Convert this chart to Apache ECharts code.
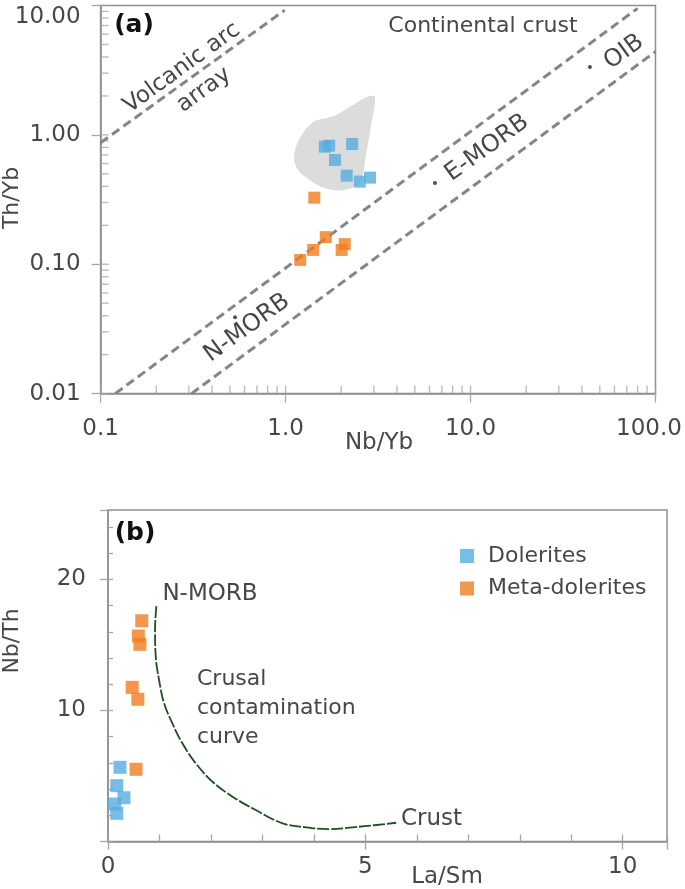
<!DOCTYPE html>
<html><head><meta charset="utf-8">
<script src="https://cdn.jsdelivr.net/npm/echarts@6/dist/echarts.min.js"></script>
<style>html,body{margin:0;padding:0;background:#fff}#c{width:685px;height:889px}</style>
</head><body><div id="c"></div>
<script>
// ---------- Panel (a): Th/Yb vs Nb/Yb (log-log) ----------
const dolNbYb = [1.63, 1.72, 2.29, 1.85, 2.14, 2.52, 2.86];
const dolThYb = [0.81, 0.825, 0.85, 0.64, 0.484, 0.435, 0.467];
const metaNbYb = [1.43, 1.65, 1.41, 1.20, 2.09, 2.01];
const metaThYb = [0.327, 0.162, 0.129, 0.108, 0.143, 0.129];
const crustFieldNbYb = [3.04, 2.90, 2.72, 2.55, 2.31, 1.97, 1.59, 1.355, 1.167, 1.11, 1.196, 1.41, 1.673, 1.89, 2.31, 2.75];
const crustFieldThYb = [1.96, 1.19, 0.70, 0.433, 0.392, 0.372, 0.392, 0.448, 0.535, 0.675, 0.946, 1.26, 1.35, 1.43, 1.70, 1.96];
const refNames = ['N-MORB', 'E-MORB', 'OIB'];
const refNbYb = [0.533, 6.42, 44.2];
const refThYb = [0.039, 0.425, 3.35];
const volcanicArcNbYb = [0.1, 0.99];
const volcanicArcThYb = [0.87, 9.2];
const morbUpperNbYb = [0.12, 80];
const morbUpperThYb = [0.01, 9.5];
const morbLowerNbYb = [0.31, 100];
const morbLowerThYb = [0.01, 4.4];
const xTickLabelsA = ['0.1', '1.0', '10.0', '100.0'];
const yTickLabelsA = ['0.01', '0.10', '1.00', '10.00'];
const xMinorTicksA = [0.1,0.2,0.3,0.4,0.5,0.6,0.7,0.8,0.9,1,2,3,4,5,6,7,8,9,10,20,30,40,50,60,70,80,90,100];
const yMinorTicksA = [0.01,0.02,0.03,0.04,0.05,0.06,0.07,0.08,0.09,0.1,0.2,0.3,0.4,0.5,0.6,0.7,0.8,0.9,1,2,3,4,5,6,7,8,9,10];

// ---------- Panel (b): Nb/Th vs La/Sm ----------
const dolLaSm = [0.233, 0.17, 0.31, 0.13, 0.17];
const dolNbTh = [5.66, 4.26, 3.34, 2.86, 2.15];
const metaLaSm = [0.656, 0.59, 0.62, 0.47, 0.58, 0.545];
const metaNbTh = [16.84, 15.68, 15.04, 11.76, 10.85, 5.51];
const curveLaSm = [0.94, 0.914, 0.928, 0.992, 1.09, 1.25, 1.445, 1.706, 2.03, 2.42, 2.87, 3.39, 3.85, 4.30, 4.75, 5.21, 5.60];
const curveNbTh = [17.96, 16.13, 14.10, 12.32, 10.54, 9.02, 7.49, 5.96, 4.56, 3.42, 2.40, 1.39, 1.08, 0.95, 1.08, 1.26, 1.43];
const xTickLabelsB = [0, 5, 10];
const yTickLabelsB = [10, 20];

const FONT = 'DejaVu Sans';
const TXT = '#474747';
const AXIS = '#8e8e8e';
const TICK = '#a6a6a6';
const BLUE = '#56ade0';
const ORANGE = '#f07d20';
const zip = (a, b) => a.map((v, i) => [v, b[i]]);
const lg = v => Math.round(Math.log10(v));

const chart = echarts.init(document.getElementById('c'), null, {renderer: 'canvas'});

const txt = (text, x, y, size, deg, weight) => ({
  type: 'text', x: x, y: y, rotation: (deg || 0) * Math.PI / 180, silent: true,
  style: {text: text, fontSize: size, fontFamily: FONT, fontWeight: weight || 'normal',
          fill: weight ? '#111' : TXT, align: 'center', verticalAlign: 'middle'}
});

const option = {
  animation: false,
  backgroundColor: '#fff',
  grid: [
    {left: 100.6, right: 29.5, top: 5.5, bottom: 889 - 393.6, show: true, borderColor: AXIS, borderWidth: 1.5, outerBoundsMode: 'none', containLabel: false},
    {left: 108, right: 18, top: 510, bottom: 889 - 841.5, show: true, borderColor: AXIS, borderWidth: 1.5, outerBoundsMode: 'none', containLabel: false}
  ],
  xAxis: [
    {gridIndex: 0, type: 'log', logBase: 10, min: 0.1, max: 100,
     axisLine: {lineStyle: {color: AXIS, width: 1.5}},
     axisTick: {length: 9, lineStyle: {color: TICK, width: 1.3}},
     splitLine: {show: false},
     axisLabel: {fontSize: 23, fontFamily: FONT, color: TXT, margin: 24,
       formatter: v => { const s = xTickLabelsA[lg(v) + 1]; return lg(v) === 2 ? '{r|' + s + '}' : s; },
       rich: {r: {fontSize: 23, fontFamily: FONT, color: TXT, padding: [0, 13, 0, 0]}}}},
    {gridIndex: 1, type: 'value', min: 0, max: 10.86, interval: 1, position: 'bottom',
     axisLine: {onZero: false, lineStyle: {color: AXIS, width: 1.5}},
     axisTick: {inside: true, length: 7, lineStyle: {color: TICK, width: 1.3}},
     splitLine: {show: false},
     axisLabel: {fontSize: 23, fontFamily: FONT, color: TXT, margin: 14,
       formatter: v => xTickLabelsB.indexOf(Math.round(v * 1000) / 1000) >= 0 ? String(Math.round(v)) : ''}},
    {gridIndex: 1, type: 'value', min: 0, max: 10.86, interval: 5, position: 'bottom',
     axisLine: {show: false, onZero: false}, axisTick: {length: 8, lineStyle: {color: TICK, width: 1.3}},
     axisLabel: {show: false}, splitLine: {show: false}}
  ],
  yAxis: [
    {gridIndex: 0, type: 'log', logBase: 10, min: 0.01, max: 10,
     axisLine: {lineStyle: {color: AXIS, width: 1.5}},
     axisTick: {length: 9, lineStyle: {color: TICK, width: 1.3}},
     splitLine: {show: false},
     axisLabel: {fontSize: 23, fontFamily: FONT, color: TXT, margin: 20, verticalAlignMaxLabel: 'top',
       formatter: v => yTickLabelsA[lg(v) + 2]}},
    {gridIndex: 1, type: 'value', min: 0, max: 25.29, interval: 2, position: 'left',
     axisLine: {onZero: false, lineStyle: {color: AXIS, width: 1.5}},
     axisTick: {inside: true, length: 5, lineStyle: {color: TICK, width: 1.3}},
     splitLine: {show: false},
     axisLabel: {fontSize: 23, fontFamily: FONT, color: TXT, margin: 22,
       formatter: v => yTickLabelsB.indexOf(Math.round(v * 1000) / 1000) >= 0 ? String(Math.round(v)) : ''}},
    {gridIndex: 1, type: 'value', min: 0, max: 25.29, interval: 10, position: 'left',
     axisLine: {show: false, onZero: false}, axisTick: {length: 8, lineStyle: {color: TICK, width: 1.3}},
     axisLabel: {show: false}, splitLine: {show: false}}
  ],
  legend: {
    data: ['Dolerites', 'Meta-dolerites'], orient: 'vertical', left: 455, top: 538,
    itemWidth: 14, itemHeight: 14, itemGap: 6.5, icon: 'rect', selectedMode: false,
    textStyle: {fontSize: 22, fontFamily: FONT, color: TXT, lineHeight: 26, padding: [0, 0, 0, 9]}
  },
  graphic: [
    txt('(a)', 134, 25, 25, 0, 'bold'),
    txt('Volcanic arc', 182, 68, 23, 36),
    txt('array', 204, 90, 23, 36),
    txt('Continental crust', 483, 26, 22, 0),
    txt('E-MORB', 487, 148, 24, 36),
    txt('OIB', 624, 52, 24, 36),
    txt('N-MORB', 247, 328, 24, 36),
    txt('Th/Yb', 12, 198, 22, 90),
    txt('Nb/Yb', 379, 443, 23, 0),
    txt('(b)', 135, 533, 25, 0, 'bold'),
    txt('N-MORB', 210, 594, 23, 0),
    {type: 'text', x: 197, y: 665, silent: true, style: {text: 'Crusal\ncontamination\ncurve', fontSize: 22, lineHeight: 29, fontFamily: FONT, fill: TXT, align: 'left', verticalAlign: 'top'}},
    {type: 'text', x: 401, y: 819, silent: true, style: {text: 'Crust', fontSize: 23, fontFamily: FONT, fill: TXT, align: 'left', verticalAlign: 'middle'}},
    txt('Nb/Th', 12, 641, 22, 90),
    txt('La/Sm', 447, 877, 23, 0)
  ],
  series: [
    {type: 'custom', name: 'crust field', xAxisIndex: 0, yAxisIndex: 0, silent: true, z: 1,
     data: [[crustFieldNbYb[0], crustFieldThYb[0]]],
     renderItem: (params, api) => ({
       type: 'polygon',
       shape: {points: crustFieldNbYb.map((x, i) => api.coord([x, crustFieldThYb[i]])), smooth: 0.35},
       style: {fill: '#dcdcdc'}
     })},
    {type: 'line', name: 'volcanic arc array', xAxisIndex: 0, yAxisIndex: 0, silent: true, symbol: 'none', z: 2,
     data: zip(volcanicArcNbYb, volcanicArcThYb), lineStyle: {color: '#858585', width: 3, type: [9, 5]}},
    {type: 'line', name: 'MORB-OIB upper', xAxisIndex: 0, yAxisIndex: 0, silent: true, symbol: 'none', z: 2,
     data: zip(morbUpperNbYb, morbUpperThYb), lineStyle: {color: '#858585', width: 3, type: [9, 5]}},
    {type: 'line', name: 'MORB-OIB lower', xAxisIndex: 0, yAxisIndex: 0, silent: true, symbol: 'none', z: 2,
     data: zip(morbLowerNbYb, morbLowerThYb), lineStyle: {color: '#858585', width: 3, type: [9, 5]}},
    {type: 'scatter', name: 'x minor ticks', xAxisIndex: 0, yAxisIndex: 0, silent: true, clip: false, z: 1,
     symbol: 'rect', symbolSize: [1.3, 8], symbolOffset: [0, -4], itemStyle: {color: TICK},
     data: xMinorTicksA.map(v => [v, 0.01])},
    {type: 'scatter', name: 'y minor ticks', xAxisIndex: 0, yAxisIndex: 0, silent: true, clip: false, z: 1,
     symbol: 'rect', symbolSize: [8, 1.3], symbolOffset: [4, 0], itemStyle: {color: TICK},
     data: yMinorTicksA.map(v => [0.1, v])},
    {type: 'scatter', name: 'Dolerites', xAxisIndex: 0, yAxisIndex: 0, z: 4,
     symbol: 'rect', symbolSize: 12, itemStyle: {color: BLUE}, data: zip(dolNbYb, dolThYb)},
    {type: 'scatter', name: 'Meta-dolerites', xAxisIndex: 0, yAxisIndex: 0, z: 4,
     symbol: 'rect', symbolSize: 12, itemStyle: {color: ORANGE}, data: zip(metaNbYb, metaThYb)},
    {type: 'scatter', name: 'reference', xAxisIndex: 0, yAxisIndex: 0, z: 5, silent: true,
     symbol: 'circle', symbolSize: 4, itemStyle: {color: '#222'},
     data: refNames.map((n, i) => ({name: n, value: [refNbYb[i], refThYb[i]]}))},
    {type: 'line', name: 'contamination curve', xAxisIndex: 1, yAxisIndex: 1, silent: true, symbol: 'none', smooth: 0.4, z: 3,
     data: zip(curveLaSm, curveNbTh), lineStyle: {color: '#1f4f1f', width: 1.8, type: [12, 2]}},
    {type: 'scatter', name: 'Dolerites', xAxisIndex: 1, yAxisIndex: 1, z: 4,
     symbol: 'rect', symbolSize: 13, itemStyle: {color: BLUE}, data: zip(dolLaSm, dolNbTh)},
    {type: 'scatter', name: 'Meta-dolerites', xAxisIndex: 1, yAxisIndex: 1, z: 4,
     symbol: 'rect', symbolSize: 13, itemStyle: {color: ORANGE}, data: zip(metaLaSm, metaNbTh)}
  ]
};
chart.setOption(option);
</script>
</body></html>
